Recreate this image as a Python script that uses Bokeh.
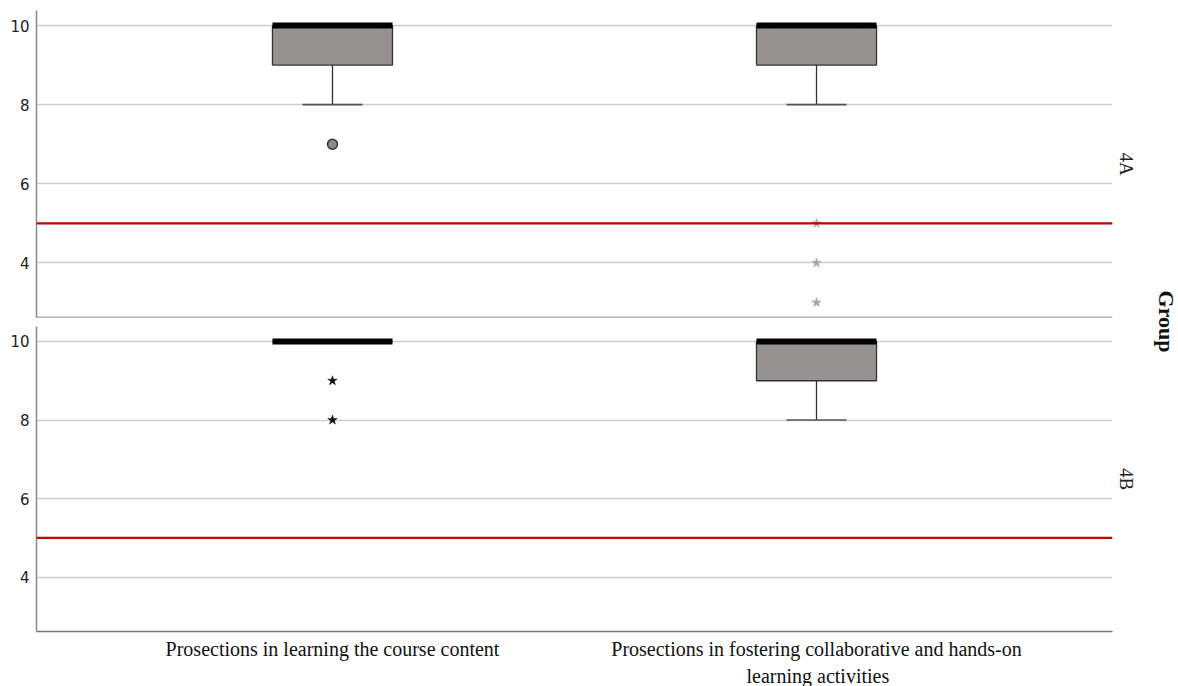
import math

from bokeh.embed import file_html
from bokeh.resources import INLINE
from bokeh.plotting import figure
from bokeh.layouts import column, row
from bokeh.models import (ColumnDataSource, FactorRange, Range1d, FixedTicker,
                          Span, Title)
from bokeh.core.properties import value
from bokeh.transform import dodge

# ---- data -------------------------------------------------------------
categories = [
    "Prosections in learning the course content",
    "Prosections in fostering collaborative and hands-on",
]
# second line of the long category label
category_label_tail = "learning activities"
groups = ["4A", "4B"]

# box statistics per group, one value per category
q1 = {"4A": [9, 9], "4B": [10, 9]}
median = {"4A": [10, 10], "4B": [10, 10]}
q3 = {"4A": [10, 10], "4B": [10, 10]}
whisker_low = {"4A": [8, 8], "4B": [10, 8]}

# mild outliers (circles) and extreme values (stars)
outlier_cat = {"4A": [categories[0]], "4B": []}
outlier_val = {"4A": [7], "4B": []}
extreme_cat = {"4A": [categories[1]] * 3, "4B": [categories[0]] * 2}
extreme_val = {"4A": [5, 4, 3], "4B": [9, 8]}
extreme_color = {"4A": "#a6a6a6", "4B": "#111111"}

cutoff = 5
y_ticks = [4, 6, 8, 10]
y_limits = (2.62, 10.38)

# ---- styling ----------------------------------------------------------
BOX_FILL = "#979292"
EDGE = "#333333"
GRID = "#cdcdcd"
AXIS = "#8a8a8a"
SERIF = "Liberation Serif"
SANS = "DejaVu Sans"

FIG_W = 1145
TOP_H = 318
BOT_H = 686 - TOP_H
BOX_W = 0.248
CAP_HALF = 0.062
LABEL_SIZE = "20px"


def panel(group, height, show_labels, border_top, border_bottom):
    p = figure(
        width=FIG_W, height=height,
        x_range=FactorRange(factors=categories, range_padding=0.1115,
                            range_padding_units="percent"),
        y_range=Range1d(*y_limits),
        output_backend="svg", toolbar_location=None,
        min_border_left=36, min_border_right=33,
        min_border_top=border_top, min_border_bottom=border_bottom,
    )
    p.outline_line_color = None
    p.background_fill_color = "white"
    p.border_fill_color = "white"
    p.xgrid.grid_line_color = None
    p.ygrid.grid_line_color = GRID
    p.ygrid.grid_line_width = 1.6
    p.yaxis.ticker = FixedTicker(ticks=y_ticks)

    for ax in (p.xaxis[0], p.yaxis[0]):
        ax.axis_line_color = AXIS
        ax.axis_line_width = 1.5
        ax.major_tick_line_color = None
        ax.minor_tick_line_color = None
        ax.major_tick_out = 0
        ax.major_tick_in = 0

    p.yaxis.major_label_text_font = SANS
    p.yaxis.major_label_text_font_size = "15px"
    p.yaxis.major_label_text_color = "#222222"
    p.yaxis.major_label_standoff = 7

    if show_labels:
        p.xaxis.major_label_text_font = SERIF
        p.xaxis.major_label_text_font_size = LABEL_SIZE
        p.xaxis.major_label_text_color = "#111111"
        p.xaxis.major_label_standoff = 6
        p.xaxis.axis_line_color = "#777777"
        # wrapped remainder of the second category label
        p.add_layout(Title(text=category_label_tail, align="left",
                           offset=710, standoff=0, text_font=SERIF,
                           text_font_size=LABEL_SIZE, text_font_style="normal",
                           text_color="#111111"), "below")
    else:
        p.xaxis.visible = False
        p.add_layout(Span(location=y_limits[0], dimension="width",
                          line_color="#666666", line_width=1.5))

    # reference line at the cut-off score
    p.add_layout(Span(location=cutoff, dimension="width",
                      line_color="#c80000", line_width=2.2))

    src = ColumnDataSource(dict(
        cat=categories, q1=q1[group], med=median[group], q3=q3[group],
        low=whisker_low[group],
    ))
    xr = p.x_range
    # whisker stem and cap
    p.segment(x0="cat", y0="q1", x1="cat", y1="low", source=src,
              line_color=EDGE, line_width=1.3)
    p.segment(x0=dodge("cat", -CAP_HALF, range=xr), y0="low",
              x1=dodge("cat", CAP_HALF, range=xr), y1="low", source=src,
              line_color="#555555", line_width=1.6)
    # box
    p.vbar(x="cat", bottom="q1", top="q3", width=BOX_W, source=src,
           fill_color=BOX_FILL, line_color=EDGE, line_width=1.3)
    # median
    p.segment(x0=dodge("cat", -BOX_W / 2, range=xr), y0="med",
              x1=dodge("cat", BOX_W / 2, range=xr), y1="med", source=src,
              line_color="black", line_width=6, line_cap="butt")

    if outlier_val[group]:
        p.scatter(x=outlier_cat[group], y=outlier_val[group], marker="circle",
                  size=10, fill_color="#8e8a8a", line_color=EDGE,
                  line_width=1.5)
    if extreme_val[group]:
        p.scatter(x=extreme_cat[group], y=extreme_val[group], marker="star",
                  size=10, fill_color=extreme_color[group],
                  line_color=extreme_color[group], line_width=0.5)

    p.add_layout(Title(text=group, align="center", text_font=SERIF,
                       text_font_size="19px", text_font_style="normal",
                       text_color="#222222", standoff=6), "right")
    return p


top = panel("4A", TOP_H, False, 10, 1)
bottom = panel("4B", BOT_H, True, 8, 0)

# facet title on the far right
side = figure(width=1178 - FIG_W, height=TOP_H + BOT_H,
              x_range=Range1d(0, 1), y_range=Range1d(0, 1),
              output_backend="svg", toolbar_location=None,
              min_border=0, min_border_left=0, min_border_right=0,
              min_border_top=0, min_border_bottom=0)
side.axis.visible = False
side.grid.visible = False
side.outline_line_color = None
side.text(x=[0.64], y=[1 - 321 / (TOP_H + BOT_H)], text=["Group"],
          angle=-math.pi / 2, text_align="center", text_baseline="middle",
          text_font=value(SERIF), text_font_size="22px",
          text_font_style="bold", text_color="#111111")

layout = row(column(top, bottom, spacing=0), side, spacing=0)

open("out.html", "w").write(file_html(layout, INLINE))
